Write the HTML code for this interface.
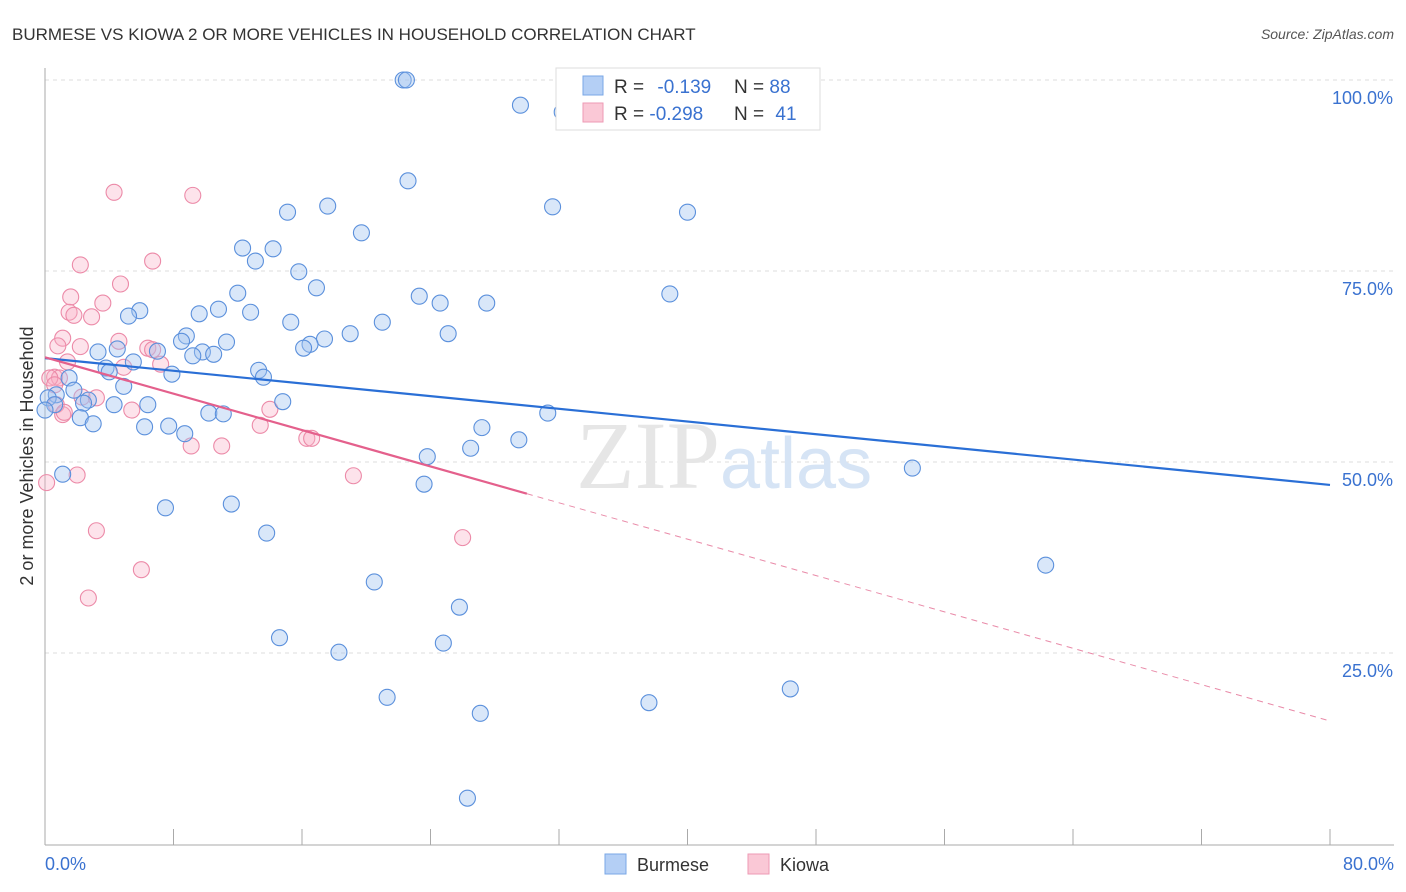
<!DOCTYPE html>
<html><head><meta charset="utf-8"><style>
body{margin:0;background:#fff;font-family:"Liberation Sans",sans-serif;}
svg{display:block}
</style></head><body>
<svg id="chart" width="1406" height="892" xmlns="http://www.w3.org/2000/svg">
<text x="12" y="40" font-size="17" fill="#333">BURMESE VS KIOWA 2 OR MORE VEHICLES IN HOUSEHOLD CORRELATION CHART</text>
<text x="1394" y="39" font-size="14" fill="#555" text-anchor="end" font-style="italic">Source: ZipAtlas.com</text>
<g id="grid"></g>
<text x="720" y="488" font-size="96" fill="#e6e6e6" font-family="Liberation Serif,serif" text-anchor="end">ZIP</text>
<text x="720" y="488" font-size="72" fill="#d6e4f5">atlas</text>
<g id="axes"></g>
<g id="pts"></g>
<g id="trends"></g>
<text transform="translate(33,456) rotate(-90)" font-size="18" fill="#333" text-anchor="middle">2 or more Vehicles in Household</text>
<g>
<rect x="556" y="68" width="264" height="62" fill="#fff" stroke="#ddd"/>
<rect x="583" y="76" width="20" height="19" fill="#b4cff5" stroke="#7aa7e6"/>
<rect x="583" y="103" width="20" height="19" fill="#fac8d6" stroke="#ee9ab4"/>
<text x="614" y="93" font-size="19" fill="#333">R = <tspan fill="#3a72d0" dx="8">-0.139</tspan></text>
<text x="734" y="93" font-size="19" fill="#333">N = <tspan fill="#3a72d0">88</tspan></text>
<text x="614" y="120" font-size="19" fill="#333">R = <tspan fill="#3a72d0">-0.298</tspan></text>
<text x="734" y="120" font-size="19" fill="#333">N = <tspan fill="#3a72d0" dx="6">41</tspan></text>
</g>
<g>
<rect x="605" y="854" width="21" height="20" fill="#b4cff5" stroke="#7aa7e6"/>
<text x="637" y="871" font-size="18" fill="#333">Burmese</text>
<rect x="748" y="854" width="21" height="20" fill="#fac8d6" stroke="#ee9ab4"/>
<text x="780" y="871" font-size="18" fill="#333">Kiowa</text>
</g>
</svg>
<script>
const burmeseX=[22.3,22.5,29.6,32.2,22.6,31.6,17.6,15.1,40.0,19.7,12.3,14.2,13.1,15.8,16.9,12.0,23.3,24.6,27.5,38.9,5.9,5.2,9.6,12.8,10.8,15.3,21.0,25.1,19.0,17.4,8.8,8.5,11.3,16.5,16.1,3.3,4.5,7.0,9.8,10.5,9.2,5.5,13.3,13.6,3.8,4.0,7.9,1.5,4.9,1.8,0.7,0.2,0.6,2.7,2.4,4.3,6.4,0.0,2.2,3.0,6.2,7.7,8.7,10.2,11.1,14.8,27.2,29.5,31.3,26.5,23.8,23.6,54.0,1.1,7.5,11.6,13.8,62.3,20.5,25.8,14.6,24.8,18.3,21.3,37.6,46.4,27.1,26.3];
const burmeseY=[100.0,100.0,96.7,95.8,86.8,83.4,83.5,82.7,82.7,80.0,78.0,77.9,76.3,74.9,72.8,72.1,71.7,70.8,70.8,72.0,69.8,69.1,69.4,69.6,70.0,68.3,68.3,66.8,66.8,66.1,66.5,65.8,65.7,65.4,64.9,64.4,64.8,64.5,64.4,64.1,63.9,63.1,62.0,61.1,62.3,61.8,61.5,61.0,59.9,59.4,58.8,58.4,57.5,58.1,57.7,57.5,57.5,56.8,55.8,55.0,54.6,54.7,53.7,56.4,56.3,57.9,54.5,52.9,56.4,51.8,50.7,47.1,49.2,48.4,44.0,44.5,40.7,36.5,34.3,31.0,27.0,26.3,25.1,19.2,18.5,20.3,17.1,6.0];
const kiowaX=[4.3,9.2,2.2,6.7,4.7,1.6,3.6,1.5,1.8,2.9,1.1,4.6,0.8,2.2,6.4,6.7,1.4,4.9,7.2,0.6,0.9,0.3,0.6,2.3,3.2,5.4,1.1,14.0,13.4,0.7,1.2,9.1,11.0,16.3,16.6,19.2,2.0,0.1,3.2,26.0,6.0,2.7];
const kiowaY=[85.3,84.9,75.8,76.3,73.3,71.6,70.8,69.6,69.2,69.0,66.2,65.8,65.2,65.1,64.9,64.7,63.1,62.4,62.8,61.1,61.0,61.0,60.1,58.5,58.4,56.8,56.2,56.9,54.8,57.5,56.5,52.1,52.1,53.1,53.1,48.2,48.3,47.3,41.0,40.1,35.9,32.2];
const yTicks=[25,50,75,100];
const yTickLabels=["25.0%","50.0%","75.0%","100.0%"];
const xTicks=[0,8,16,24,32,40,48,56,64,72,80];
const burmeseTrend=[63.6,47.0];
const kiowaTrend=[63.7,16.1];
const kiowaSolidEnd=30;

const NS="http://www.w3.org/2000/svg";
const X=v=>45+v*16.0625, Y=v=>844-v*7.64;
function mk(tag,attrs,parent){const e=document.createElementNS(NS,tag);for(const k in attrs)e.setAttribute(k,attrs[k]);parent.appendChild(e);return e;}
const grid=document.getElementById('grid'),axes=document.getElementById('axes'),pts=document.getElementById('pts'),tr=document.getElementById('trends');
yTicks.forEach((t,i)=>{
 const l=mk('line',{x1:45,x2:1394,y1:Y(t),y2:Y(t),stroke:'#ddd','stroke-dasharray':'4,4'},grid);
 
 
 const tx=mk('text',{x:1393,y:Y(t)+24,'font-size':18,fill:'#3a72d0','text-anchor':'end'},axes);
 tx.textContent=yTickLabels[i];
 
 
});
const ax=mk('line',{x1:45,x2:45,y1:68,y2:845,stroke:'#aaa'},axes);


const bx=mk('line',{x1:45,x2:1394,y1:845,y2:845,stroke:'#aaa'},axes);


xTicks.forEach(t=>{
 const l=mk('line',{x1:X(t),x2:X(t),y1:829,y2:845,stroke:'#aaa'},axes);
 
 
});
const x0=mk('text',{x:45,y:870,'font-size':18,fill:'#3a72d0'},axes);x0.textContent=xTicks[0].toFixed(1)+'%';


const x1=mk('text',{x:1394,y:870,'font-size':18,fill:'#3a72d0','text-anchor':'end'},axes);x1.textContent=xTicks[xTicks.length-1].toFixed(1)+'%';


kiowaX.forEach((v,i)=>{
 const c=mk('circle',{cx:X(v),cy:Y(kiowaY[i]),r:8,fill:'rgba(248,176,198,0.35)',stroke:'#ec8aa8','stroke-width':1.1},pts);
 
 
});
burmeseX.forEach((v,i)=>{
 const c=mk('circle',{cx:X(v),cy:Y(burmeseY[i]),r:8,fill:'rgba(160,196,240,0.4)',stroke:'#5b90dc','stroke-width':1.1},pts);
 
 
});
const bl=mk('line',{x1:X(0),y1:Y(burmeseTrend[0]),x2:X(80),y2:Y(burmeseTrend[1]),stroke:'#2a6fd6','stroke-width':2.2},tr);


const ky=x=>kiowaTrend[0]+(kiowaTrend[1]-kiowaTrend[0])*x/80;
const ks=mk('line',{x1:X(0),y1:Y(ky(0)),x2:X(kiowaSolidEnd),y2:Y(ky(kiowaSolidEnd)),stroke:'#e4608c','stroke-width':2.2},tr);


const kd=mk('line',{x1:X(kiowaSolidEnd),y1:Y(ky(kiowaSolidEnd)),x2:X(80),y2:Y(ky(80)),stroke:'#e98aa8','stroke-width':1,'stroke-dasharray':'6,5'},tr);


</script>
</body></html>
